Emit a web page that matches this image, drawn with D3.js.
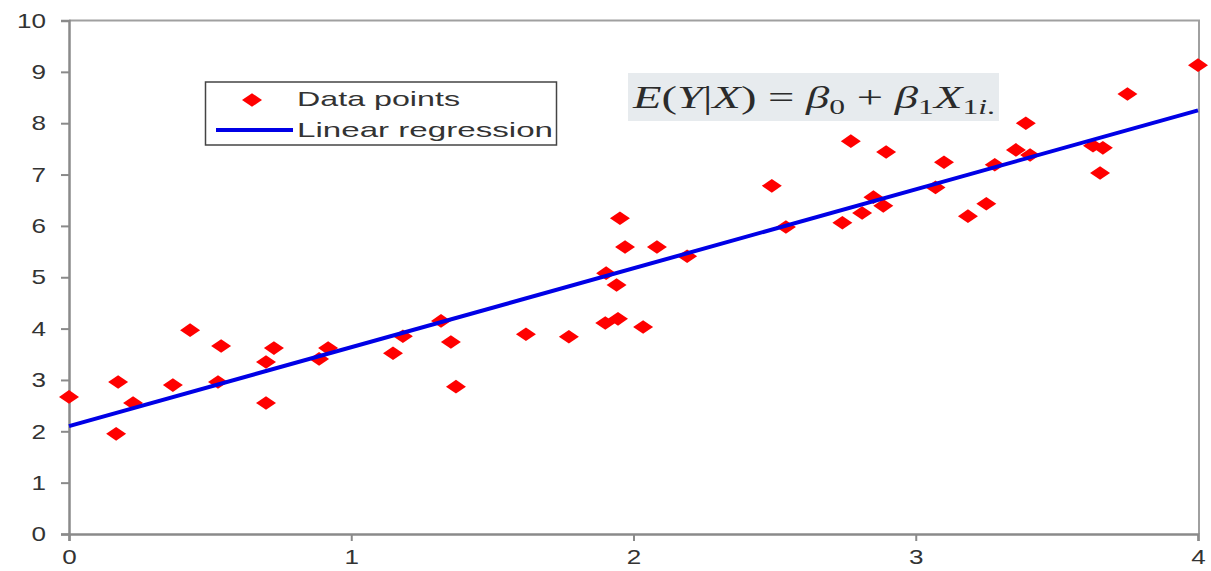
<!DOCTYPE html>
<html>
<head>
<meta charset="utf-8">
<script src="https://cdn.jsdelivr.net/npm/d3@7"></script>
<style>
  body { margin: 0; background: #fff; }
  svg { display: block; font-family: "Liberation Sans", Arial, sans-serif; }
</style>
</head>
<body>
<svg class="chart" width="1211" height="571"></svg>
<script>
// data
var pointX = [0, 0.167, 0.174, 0.227, 0.368, 0.429, 0.539, 0.528, 0.698, 0.698,
              0.726, 0.886, 0.918, 1.148, 1.183, 1.318, 1.353, 1.371, 1.619, 1.771,
              1.903, 1.90, 1.94, 1.952, 1.945, 1.97, 2.034, 2.083, 2.19, 2.49,
              2.54, 2.74, 2.77, 2.81, 2.85, 2.885, 2.895, 3.07, 3.10, 3.185,
              3.25, 3.28, 3.355, 3.39, 3.405, 3.628, 3.663, 3.653, 3.75, 4.0];
var pointY = [2.67, 1.95, 2.96, 2.55, 2.90, 3.97, 3.66, 2.96, 3.35, 2.55,
              3.62, 3.41, 3.62, 3.52, 3.85, 4.15, 3.74, 2.87, 3.89, 3.84,
              5.08, 4.11, 4.85, 6.15, 4.19, 5.59, 4.03, 5.59, 5.41, 6.78,
              5.98, 6.06, 7.65, 6.25, 6.56, 6.39, 7.44, 6.75, 7.24, 6.19,
              6.43, 7.19, 7.48, 8.00, 7.38, 7.56, 7.52, 7.03, 8.57, 9.13];
var fitX = [0, 4];
var fitY = [2.1, 8.25];
var xTicks = [0, 1, 2, 3, 4];
var yTicks = [0, 1, 2, 3, 4, 5, 6, 7, 8, 9, 10];
var legendLabels = ["Data points", "Linear regression"];

var svg = d3.select(".chart");
var mLeft = 69, mRight = 1199, mTop = 20.5, mBottom = 534;

var x = d3.scaleLinear().domain([0, 4]).range([mLeft, mRight - 1]);
var y = d3.scaleLinear().domain([0, 10]).range([mBottom, mTop]);
var fmt = d3.format("d");

// frame (top and right)
svg.append("path")
    .attr("d", "M" + mLeft + "," + mTop + "H" + mRight + "V" + mBottom)
    .attr("fill", "none")
    .attr("stroke", "#a0a0a0")
    .attr("stroke-width", 2);

var yAxis = svg.append("g")
    .attr("transform", "translate(" + mLeft + ",0)")
    .call(d3.axisLeft(y).tickValues(yTicks).tickFormat(fmt).tickSize(8).tickPadding(15));

var xAxis = svg.append("g")
    .attr("transform", "translate(0," + mBottom + ")")
    .call(d3.axisBottom(x).tickValues(xTicks).tickFormat(fmt).tickSize(7).tickPadding(8));

[yAxis, xAxis].forEach(function (ax) {
    ax.select(".domain").attr("stroke", "#8a8a8a").attr("stroke-width", 2.5);
    ax.selectAll(".tick line").attr("stroke", "#8a8a8a").attr("stroke-width", 2);
    ax.selectAll(".tick text")
        .attr("fill", "#333")
        .style("font-size", "21px")
        .attr("textLength", function (d) { return fmt(d).length * 14.5; })
        .attr("lengthAdjust", "spacingAndGlyphs");
});

// diamond marker, wider than tall
var diamond = "M-10,0L0,-6.8L10,0L0,6.8Z";

svg.append("g")
    .selectAll("path")
    .data(d3.range(pointX.length))
    .enter()
    .append("path")
    .attr("d", diamond)
    .attr("transform", function (i) { return "translate(" + x(pointX[i]) + "," + y(pointY[i]) + ")"; })
    .attr("fill", "#ff0000");

var line = d3.line()
    .x(function (i) { return x(fitX[i]); })
    .y(function (i) { return y(fitY[i]); });

svg.append("path")
    .datum(d3.range(fitX.length))
    .attr("d", line)
    .attr("fill", "none")
    .attr("stroke", "#0000e6")
    .attr("stroke-width", 4);

// legend
var lg = svg.append("g");
lg.append("rect")
    .attr("x", 205.5).attr("y", 82)
    .attr("width", 351).attr("height", 63)
    .attr("fill", "#fff")
    .attr("stroke", "#444")
    .attr("stroke-width", 1.5);
lg.append("path")
    .attr("d", diamond)
    .attr("transform", "translate(252,100)")
    .attr("fill", "#ff0000");
lg.append("line")
    .attr("x1", 216).attr("x2", 293)
    .attr("y1", 130).attr("y2", 130)
    .attr("stroke", "#0000e6")
    .attr("stroke-width", 4);
lg.selectAll("text.lab")
    .data(legendLabels)
    .enter()
    .append("text")
    .attr("class", "lab")
    .attr("x", 297)
    .attr("y", function (d, i) { return 106 + i * 31; })
    .attr("fill", "#333")
    .style("font-size", "21px")
    .attr("textLength", function (d, i) { return i === 0 ? 163 : 256; })
    .attr("lengthAdjust", "spacingAndGlyphs")
    .text(function (d) { return d; });

// formula with grey background
svg.append("rect")
    .attr("x", 628).attr("y", 73)
    .attr("width", 371).attr("height", 48)
    .attr("fill", "#e7ebee");

var eq = svg.append("g");
var eqText = eq.append("text")
    .attr("x", 0).attr("y", 0)
    .attr("fill", "#2b2b2b")
    .style("font-family", "'Liberation Serif', 'DejaVu Serif', serif")
    .style("font-size", "31px");

var parts = [
    ["E", "italic", 0], ["(", "normal", 0], ["Y", "italic", 0], ["|", "normal", 0],
    ["X", "italic", 0], [")", "normal", 0], [" = ", "normal", 0], ["β", "italic", 0],
    ["0", "normal", 1], [" + ", "normal", 0], ["β", "italic", 0], ["1", "normal", 1],
    ["X", "italic", 0], ["1", "normal", 1], ["i", "italic", 1], [".", "normal", 1]
];
var prevSub = 0;
parts.forEach(function (p) {
    var dy = (p[2] - prevSub) * 6;
    prevSub = p[2];
    eqText.append("tspan")
        .attr("dy", dy)
        .style("font-style", p[1])
        .style("font-size", p[2] ? "21px" : "31px")
        .text(p[0]);
});
var eqW = eqText.node().getComputedTextLength();
eq.attr("transform", "translate(633,108) scale(" + (362 / eqW) + ",1)");
</script>
</body>
</html>
